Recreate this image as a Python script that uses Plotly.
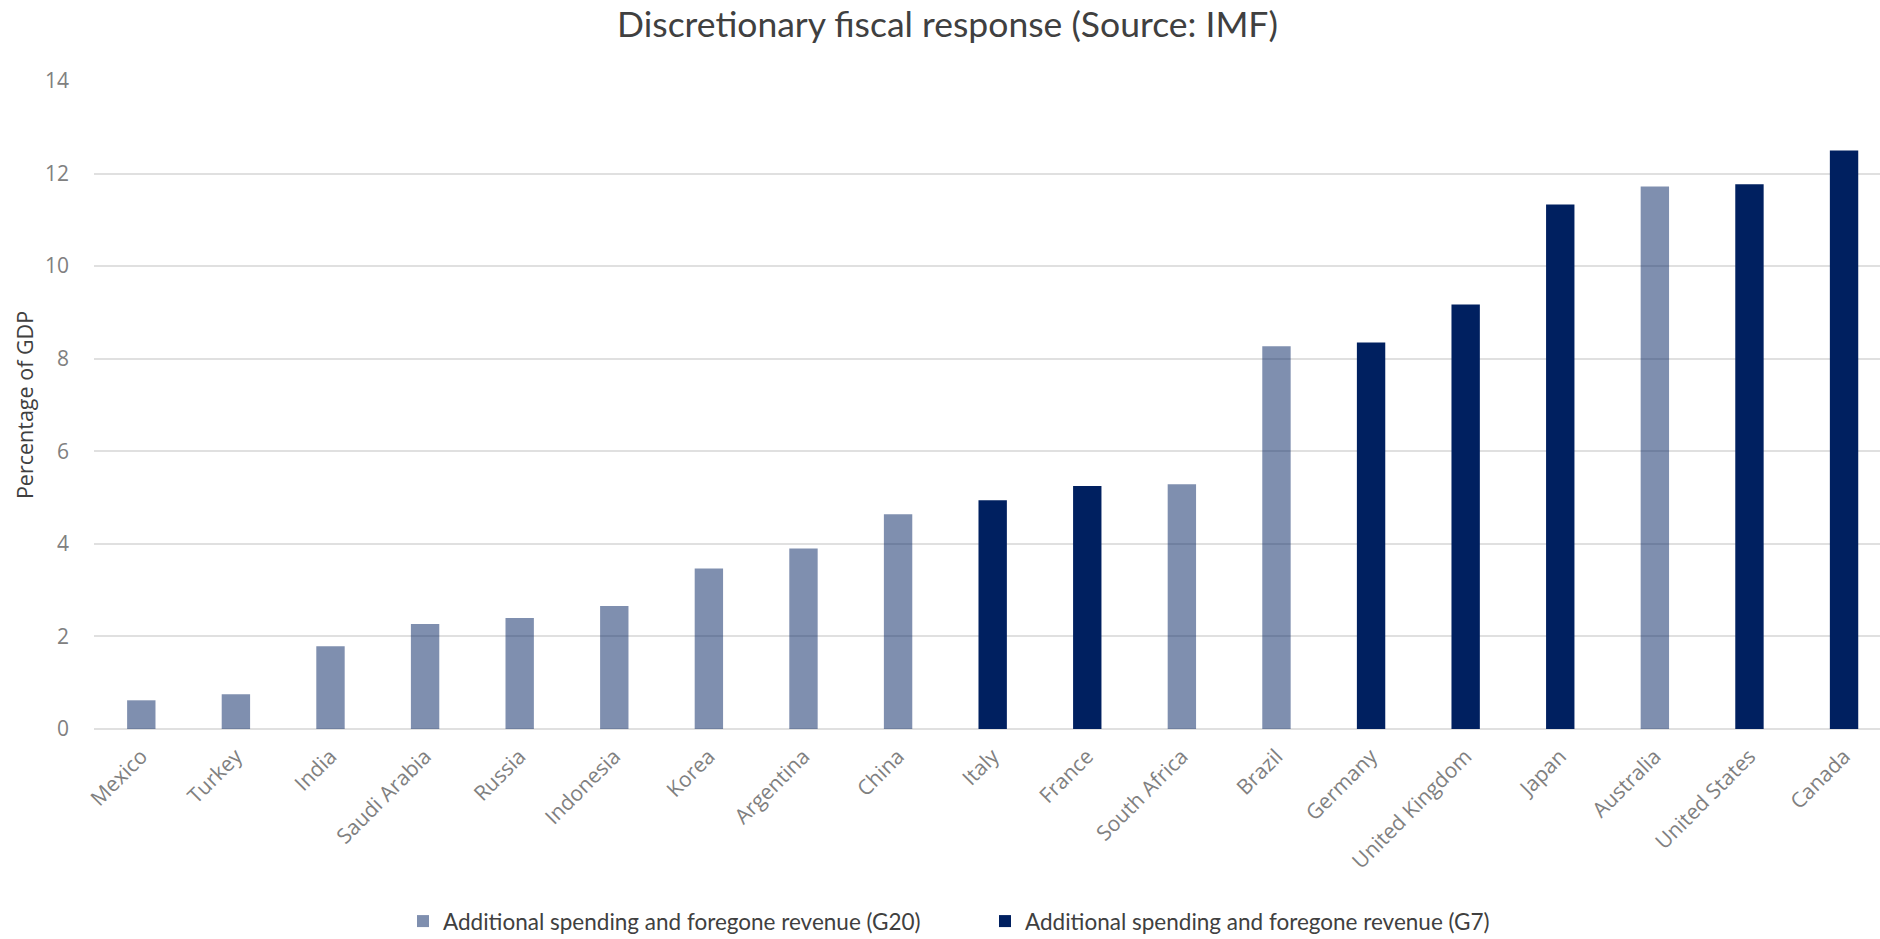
import plotly.graph_objects as go

# Countries ordered by size of discretionary fiscal response (% of GDP)
countries = ["Mexico", "Turkey", "India", "Saudi Arabia", "Russia", "Indonesia",
             "Korea", "Argentina", "China", "Italy", "France", "South Africa",
             "Brazil", "Germany", "United Kingdom", "Japan", "Australia",
             "United States", "Canada"]

response = [0.62, 0.75, 1.79, 2.27, 2.40, 2.66, 3.47, 3.90, 4.64, 4.94, 5.25,
            5.29, 8.27, 8.35, 9.17, 11.33, 11.72, 11.77, 12.50]

g7_members = ["Italy", "France", "Germany", "United Kingdom", "Japan",
              "United States", "Canada"]

g20_label = "Additional spending and foregone revenue (G20)"
g7_label = "Additional spending and foregone revenue (G7)"
title_text = "Discretionary fiscal response (Source: IMF)"
y_title = "Percentage of GDP"
y_ticks = [0, 2, 4, 6, 8, 10, 12, 14]

g20_vals = [v if c not in g7_members else None for c, v in zip(countries, response)]
g7_vals = [v if c in g7_members else None for c, v in zip(countries, response)]

NARROW = "Lato"
AXIS = "Open Sans"

fig = go.Figure()
fig.add_trace(go.Bar(x=countries, y=g20_vals, name=g20_label,
                     marker=dict(color="rgba(0,32,96,0.5)", line=dict(width=0))))
fig.add_trace(go.Bar(x=countries, y=g7_vals, name=g7_label,
                     marker=dict(color="#002060", line=dict(width=0))))

fig.update_layout(
    width=1880, height=939,
    barmode="overlay", bargap=0.70,
    plot_bgcolor="white", paper_bgcolor="white",
    margin=dict(l=94, r=0, t=81, b=210, autoexpand=False),
    font=dict(family=AXIS, color="#595959"),
    title=dict(text=title_text, x=0.504, xanchor="center", y=0.974, yanchor="middle",
               xref="container", font=dict(family=NARROW, size=35.5, color="#404040")),
    xaxis=dict(range=[-0.5, 18.38], tickangle=-45, showgrid=False, showline=False,
               zeroline=False, ticks="", ticklabelstandoff=10, automargin=False,
               tickfont=dict(family=AXIS, size=21, color="#808080")),
    yaxis=dict(range=[0, 14], tickvals=y_ticks, showgrid=True, gridcolor="#e0e0e0",
               gridwidth=2, zeroline=True, zerolinecolor="#e0e0e0", zerolinewidth=2,
               showline=False, ticks="", ticklabelstandoff=24, automargin=False,
               tickfont=dict(family=AXIS, size=21, color="#808080"),
               title=dict(text=y_title, standoff=5,
                          font=dict(family=AXIS, size=21.5, color="#404040"))),
    legend=dict(orientation="h", x=0.173, xanchor="left", y=-0.297, yanchor="middle",
                entrywidth=537, entrywidthmode="pixels",
                font=dict(family=NARROW, size=22.5, color="#404040"),
                itemclick=False, traceorder="normal"),
    showlegend=True,
)

fig.write_html("out.html")
